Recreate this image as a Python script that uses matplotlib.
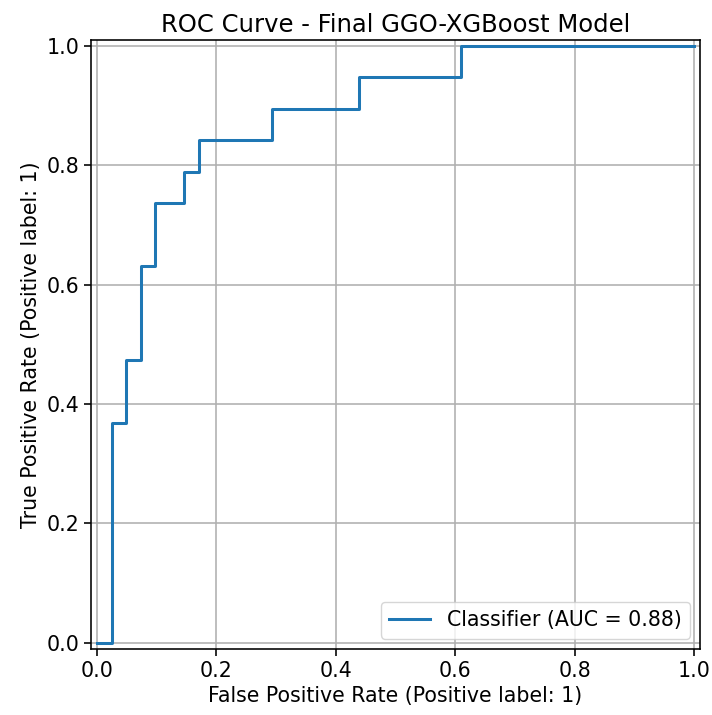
import matplotlib
matplotlib.use("Agg")
import matplotlib.pyplot as plt
import numpy as np

# ROC steps (counts out of 41 negatives / 19 positives)
fp_counts = [0, 1, 1, 2, 2, 3, 3, 4, 4, 6, 6, 7, 7, 12, 12, 18, 18, 25, 25, 41]
tp_counts = [0, 0, 7, 7, 9, 9, 12, 12, 14, 14, 15, 15, 16, 16, 17, 17, 18, 18, 19, 19]
n_neg = 41
n_pos = 19
auc_label = "Classifier (AUC = 0.88)"

fpr = np.array(fp_counts) / n_neg
tpr = np.array(tp_counts) / n_pos

s = 1.45  # original was rendered at a higher dpi
plt.rcParams.update({
    'font.size': 14.8,
    'axes.linewidth': 0.8 * s,
    'grid.linewidth': 0.8 * s,
    'xtick.major.size': 3.5 * s,
    'ytick.major.size': 3.5 * s,
    'xtick.major.width': 0.8 * s,
    'ytick.major.width': 0.8 * s,
    'legend.fontsize': 14.8,
})

fig = plt.figure(figsize=(7.12, 7.15), dpi=100)
ax = fig.add_axes([0.128, 0.0923, 0.855, 0.852])
ax.plot(fpr, tpr, color='#1f77b4', lw=1.5 * s, label=auc_label)
ax.set_xlim(-0.01, 1.01)
ax.set_ylim(-0.01, 1.01)
ax.set_aspect('equal')
ax.grid(True)
ax.set_xlabel("False Positive Rate (Positive label: 1)")
ax.set_ylabel("True Positive Rate (Positive label: 1)")
ax.set_title("ROC Curve - Final GGO-XGBoost Model", fontsize=17.5)
ax.legend(loc='lower right')

fig.savefig("out.png", dpi=100)
